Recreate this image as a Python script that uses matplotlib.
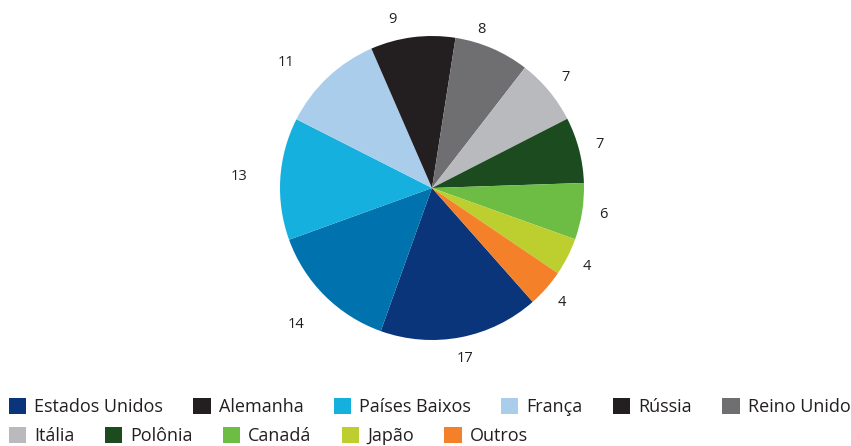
import numpy as np
import matplotlib
matplotlib.use('Agg')
import matplotlib.pyplot as plt
from matplotlib.patches import Patch

plt.rcParams['font.family'] = ['Open Sans', 'DejaVu Sans']

# data (legend order)
paises = ['Estados Unidos', 'Alemanha', 'Países Baixos', 'França', 'Rússia',
          'Reino Unido', 'Itália', 'Polônia', 'Canadá', 'Japão', 'Outros']
valores = [17, 14, 13, 11, 9, 8, 7, 7, 6, 4, 4]
cores_fatias = ['#0a357a', '#0072ae', '#15b0de', '#abcdec', '#231f20',
                '#6f6f72', '#b9babd', '#1c4b20', '#6dbd45', '#bccf2f', '#f4812a']
# the legend in the source shows Alemanha in black
cores_legenda = ['#0a357a', '#231f20', '#15b0de', '#abcdec', '#231f20',
                 '#6f6f72', '#b9babd', '#1c4b20', '#6dbd45', '#bccf2f', '#f4812a']

W, H = 851, 446
fig = plt.figure(figsize=(W / 100, H / 100), dpi=100)

cx, cy, r = 432, 188, 152
ax = fig.add_axes([(cx - r) / W, (H - cy - r) / H, 2 * r / W, 2 * r / H])
wedges, _ = ax.pie(valores, colors=cores_fatias, startangle=-48.5,
                   counterclock=False, wedgeprops=dict(linewidth=0))
ax.set_xlim(-1, 1)
ax.set_ylim(-1, 1)
ax.set_aspect('equal')
ax.axis('off')

# value labels
for w, v in zip(wedges, valores):
    mid = ((w.theta1 + w.theta2) / 2) % 360
    d = 1.14
    if 60 < mid < 150:
        mid += 6   # upper labels sit a little further round
        if mid < 90:
            d = 1.09
    ang = np.deg2rad(mid)
    x, y = np.cos(ang), np.sin(ang)
    if x < -0.5:
        d = 1.27
    ax.text(d * x, d * y, str(v), ha='center', va='center',
            fontsize=10.5, color='#231f20')

# legend in two rows
handles = [Patch(facecolor=c, edgecolor='none') for c in cores_legenda]
kw = dict(frameon=False, fontsize=13.0, handlelength=0.95, handleheight=0.95,
          handletextpad=0.45, columnspacing=1.68, borderaxespad=0,
          borderpad=0, labelcolor='#231f20')
fig.legend(handles[:6], paises[:6], ncol=6, loc='center left',
           bbox_to_anchor=(9 / W, 1 - 407 / H), **kw)
fig.legend(handles[6:], paises[6:], ncol=5, loc='center left',
           bbox_to_anchor=(9 / W, 1 - 436 / H), **kw)

fig.savefig('out.png', dpi=100)
